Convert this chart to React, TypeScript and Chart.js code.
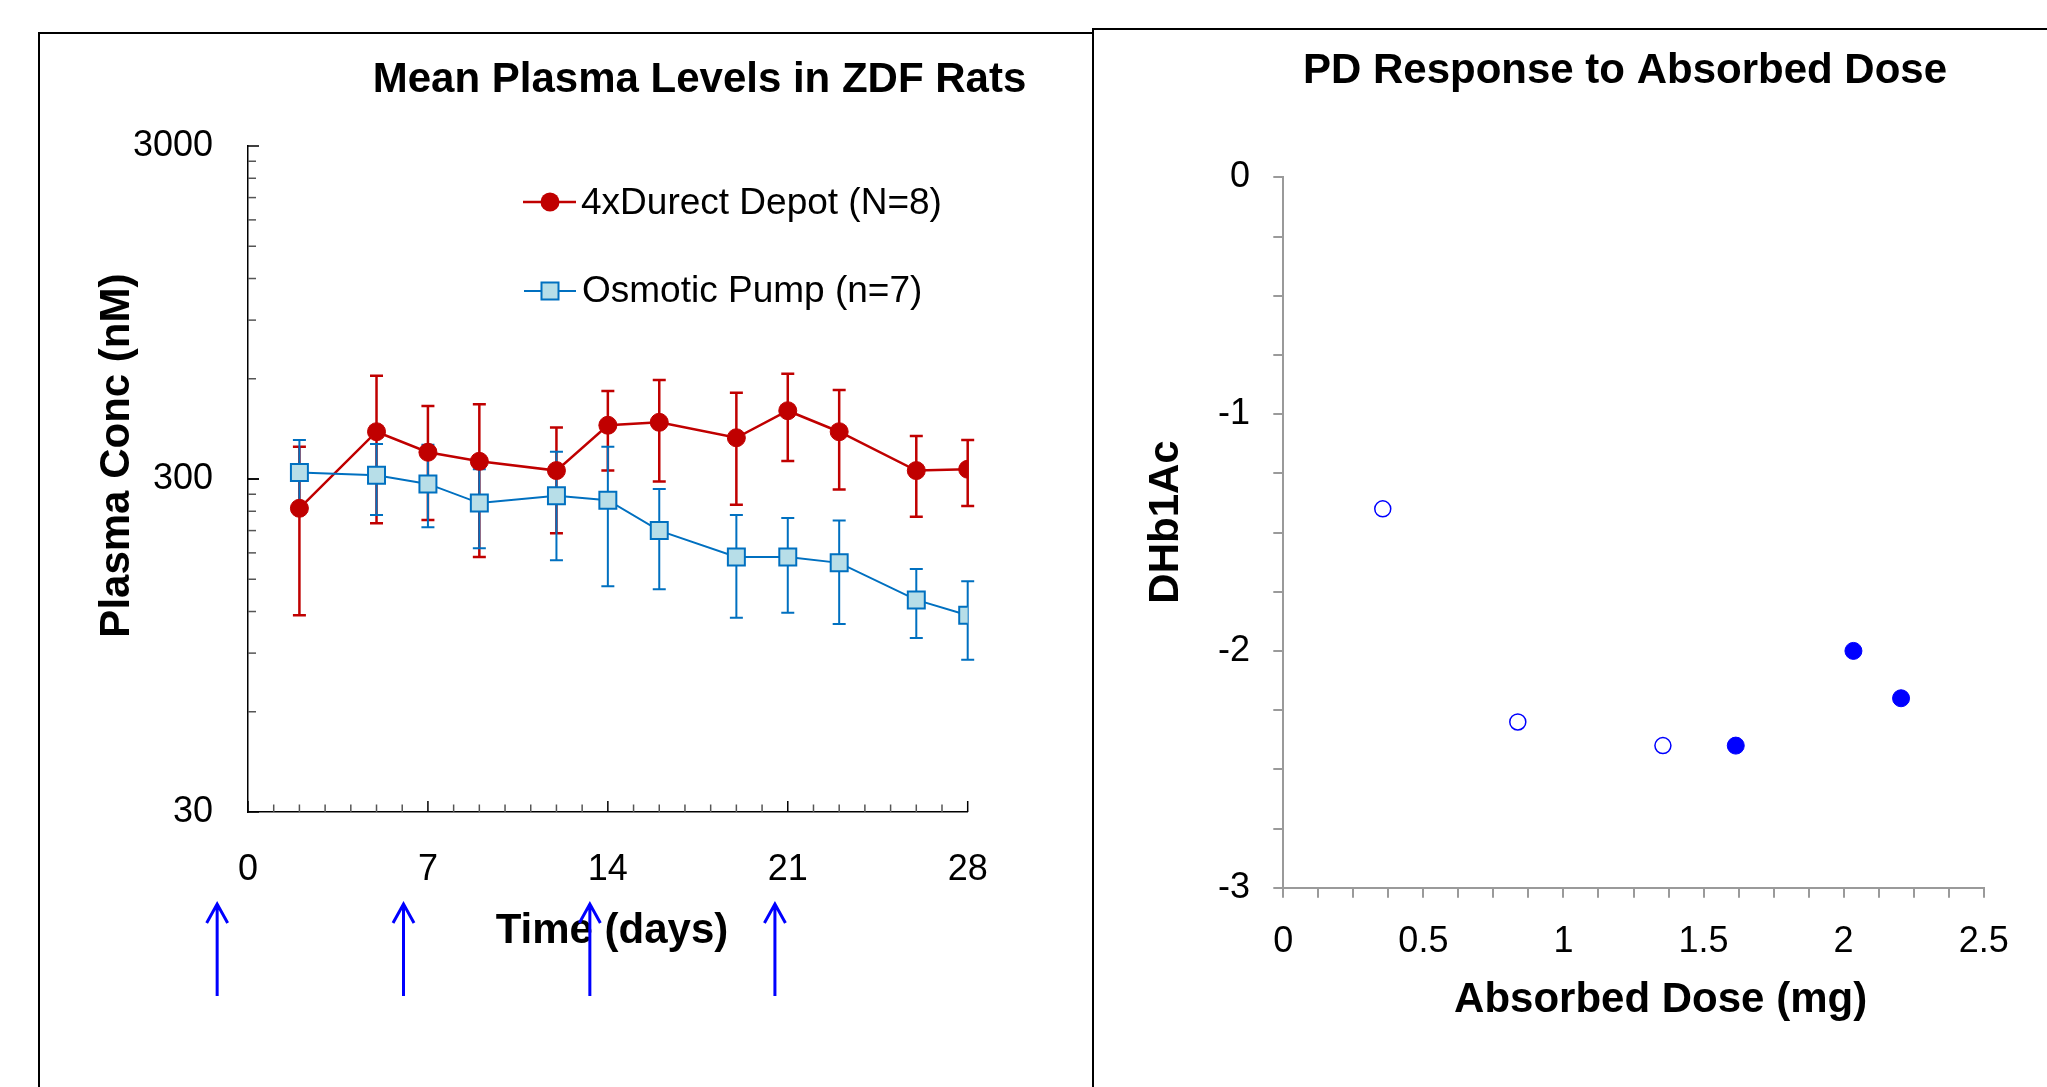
import React, { useEffect, useRef } from 'react';
import { Chart, registerables } from 'chart.js';

Chart.register(...registerables);

const FONT = "'Liberation Sans', Arial, Helvetica, sans-serif";

// ---- Left chart data ----
const days = [2, 5, 7, 9, 12, 14, 16, 19, 21, 23, 26, 28];
const depotMean = [245, 416, 361, 339, 318, 435, 444, 399, 481, 416, 318, 321];
const depotUpper = [375, 613, 497, 503, 428, 551, 595, 545, 621, 555, 404, 393];
const depotLower = [117, 221, 226, 175, 206, 318, 295, 251, 340, 279, 231, 249];
const pumpMean = [314, 308, 290, 254, 267, 259, 210, 175, 175, 168, 130, 117];
const pumpUpper = [393, 382, 380, 321, 362, 375, 280, 234, 229, 225, 161, 148];
const pumpLower = [251, 234, 215, 186, 171, 143, 140, 115, 119, 110, 100, 86];
const doseDays = [-1.2, 6.05, 13.3, 20.5];
const timeTicks = [0, 7, 14, 21, 28];
const concTicks = [30, 300, 3000];
const depotLabel = '4xDurect Depot (N=8)';
const pumpLabel = 'Osmotic Pump (n=7)';

// ---- Right chart data ----
const openDose = [0.355, 0.837, 1.355];
const openResp = [-1.4, -2.3, -2.4];
const filledDose = [1.615, 2.035, 2.205];
const filledResp = [-2.4, -2.0, -2.2];

const RED = '#C00000';
const BLUE = '#0070C0';
const BLUE_FILL = '#B7DEE8';
const PURE_BLUE = '#0000FF';

function drawText(ctx: any, text: string, x: number, y: number, size: number, bold: boolean, rotate = 0, align = 'center') {
  ctx.save();
  ctx.translate(x, y);
  if (rotate) ctx.rotate(rotate);
  ctx.font = `${bold ? 'bold ' : ''}${size}px ${FONT}`;
  ctx.fillStyle = '#000';
  ctx.textAlign = align;
  ctx.textBaseline = 'middle';
  ctx.fillText(text, 0, 0);
  ctx.restore();
}

function drawErr(ctx: any, xs: any, ys: any, lo: number[], hi: number[], color: string, w: number) {
  ctx.save();
  ctx.strokeStyle = color;
  ctx.lineWidth = w;
  days.forEach((d, i) => {
    const px = xs.getPixelForValue(d);
    const p1 = ys.getPixelForValue(hi[i]);
    const p2 = ys.getPixelForValue(lo[i]);
    ctx.beginPath();
    ctx.moveTo(px, p1);
    ctx.lineTo(px, p2);
    ctx.moveTo(px - 6.5, p1);
    ctx.lineTo(px + 6.5, p1);
    ctx.moveTo(px - 6.5, p2);
    ctx.lineTo(px + 6.5, p2);
    ctx.stroke();
  });
  ctx.restore();
}

const leftDecor = {
  id: 'leftDecor',
  beforeDatasetsDraw(chart: any) {
    const { ctx, chartArea: a, scales } = chart;
    const xs = scales.x;
    const ys = scales.y;
    ctx.save();
    ctx.lineWidth = 1.5;
    for (let d = 0; d <= 28; d++) {
      const px = xs.getPixelForValue(d);
      const major = d % 7 === 0;
      ctx.strokeStyle = major ? '#000' : '#555';
      ctx.beginPath();
      ctx.moveTo(px, a.bottom);
      ctx.lineTo(px, a.bottom - (major ? 11 : 7.5));
      ctx.stroke();
    }
    const yt: number[] = [];
    for (let k = 1; k <= 10; k++) { yt.push(30 * k); yt.push(300 * k); }
    yt.forEach((v) => {
      const py = ys.getPixelForValue(v);
      const major = concTicks.includes(v);
      ctx.strokeStyle = major ? '#000' : '#555';
      ctx.beginPath();
      ctx.moveTo(a.left, py);
      ctx.lineTo(a.left + (major ? 11 : 8), py);
      ctx.stroke();
    });
    ctx.restore();
    drawErr(ctx, xs, ys, depotLower, depotUpper, RED, 2.5);
    drawErr(ctx, xs, ys, pumpLower, pumpUpper, BLUE, 2);
  },
  afterDraw(chart: any) {
    const { ctx, chartArea: a, scales } = chart;
    const xs = scales.x;
    drawText(ctx, 'Mean Plasma Levels in ZDF Rats', 699.5, 80, 42, true);
    drawText(ctx, 'Plasma Conc (nM)', 117.5, 455.6, 42, true, -Math.PI / 2);
    drawText(ctx, 'Time (days)', 612, 931, 42, true);

    ctx.save();
    ctx.strokeStyle = RED;
    ctx.lineWidth = 2.5;
    ctx.beginPath();
    ctx.moveTo(523, 202);
    ctx.lineTo(576, 202);
    ctx.stroke();
    ctx.fillStyle = RED;
    ctx.beginPath();
    ctx.arc(550, 202, 9.5, 0, Math.PI * 2);
    ctx.fill();
    ctx.strokeStyle = BLUE;
    ctx.lineWidth = 2;
    ctx.beginPath();
    ctx.moveTo(524, 291);
    ctx.lineTo(576, 291);
    ctx.stroke();
    ctx.fillStyle = BLUE_FILL;
    ctx.fillRect(541.5, 282.5, 17, 17);
    ctx.strokeRect(541.5, 282.5, 17, 17);
    ctx.restore();
    drawText(ctx, depotLabel, 581, 203.5, 37, false, 0, 'left');
    drawText(ctx, pumpLabel, 582, 291.5, 37, false, 0, 'left');

    ctx.save();
    ctx.strokeStyle = PURE_BLUE;
    ctx.lineWidth = 3;
    doseDays.forEach((d) => {
      const px = xs.getPixelForValue(d);
      const y1 = a.bottom + 92;
      const y2 = a.bottom + 184;
      ctx.beginPath();
      ctx.moveTo(px, y2);
      ctx.lineTo(px, y1);
      ctx.moveTo(px - 10.5, y1 + 19);
      ctx.lineTo(px, y1);
      ctx.lineTo(px + 10.5, y1 + 19);
      ctx.stroke();
    });
    ctx.restore();
  },
};

const rightDecor = {
  id: 'rightDecor',
  afterDraw(chart: any) {
    const { ctx } = chart;
    drawText(ctx, 'PD Response to Absorbed Dose', 1625, 71, 42, true);
    drawText(ctx, 'DHb1Ac', 1166, 522, 42, true, -Math.PI / 2);
    drawText(ctx, 'Absorbed Dose (mg)', 1660.6, 1000, 42, true);
  },
};

function leftConfig(): any {
  return {
    type: 'line',
    data: {
      datasets: [
        {
          label: depotLabel,
          data: days.map((d, i) => ({ x: d, y: depotMean[i] })),
          order: 1,
          borderColor: RED,
          borderWidth: 2.5,
          pointStyle: 'circle',
          pointRadius: 9,
          pointBackgroundColor: RED,
          pointBorderColor: RED,
          pointBorderWidth: 1,
          tension: 0,
        },
        {
          label: pumpLabel,
          data: days.map((d, i) => ({ x: d, y: pumpMean[i] })),
          order: 0,
          borderColor: BLUE,
          borderWidth: 2,
          pointStyle: 'rect',
          pointRadius: 12,
          pointBackgroundColor: BLUE_FILL,
          pointBorderColor: BLUE,
          pointBorderWidth: 2,
          tension: 0,
        },
      ],
    },
    options: {
      responsive: false,
      animation: false,
      events: [],
      layout: { padding: { left: 48, right: 2047 - 967.7, top: 146, bottom: 175 } },
      scales: {
        x: {
          type: 'linear',
          min: 0,
          max: 28,
          afterBuildTicks: (s: any) => { s.ticks = timeTicks.map((v) => ({ value: v })); },
          afterFit: (s: any) => { s.height = 100; },
          grid: { display: false, drawTicks: false, tickLength: 0 },
          border: { display: true, color: '#000', width: 1.5 },
          ticks: { padding: 36, color: '#000', font: { size: 36, family: FONT }, maxRotation: 0, autoSkip: false, callback: (v: any) => String(v) },
        },
        y: {
          type: 'logarithmic',
          min: 30,
          max: 3000,
          afterBuildTicks: (s: any) => { s.ticks = concTicks.map((v) => ({ value: v })); },
          afterFit: (s: any) => { s.width = 200; },
          grid: { display: false, drawTicks: false, tickLength: 0 },
          border: { display: true, color: '#000', width: 1.5 },
          ticks: { padding: 35, color: '#000', font: { size: 36, family: FONT }, autoSkip: false, callback: (v: any) => String(v) },
        },
      },
      plugins: { legend: { display: false }, tooltip: { enabled: false }, title: { display: false } },
    },
    plugins: [leftDecor],
  };
}

function rightConfig(): any {
  return {
    type: 'scatter',
    data: {
      datasets: [
        {
          label: 'open',
          data: openDose.map((d, i) => ({ x: d, y: openResp[i] })),
          pointStyle: 'circle',
          pointRadius: 8,
          pointBackgroundColor: '#FFFFFF',
          pointBorderColor: PURE_BLUE,
          pointBorderWidth: 1.5,
          showLine: false,
        },
        {
          label: 'filled',
          data: filledDose.map((d, i) => ({ x: d, y: filledResp[i] })),
          pointStyle: 'circle',
          pointRadius: 8.5,
          pointBackgroundColor: PURE_BLUE,
          pointBorderColor: PURE_BLUE,
          pointBorderWidth: 1,
          showLine: false,
        },
      ],
    },
    options: {
      responsive: false,
      animation: false,
      events: [],
      layout: { padding: { left: 1283.3 - 150, right: 2047 - 1983.7, top: 177.3, bottom: 1087 - 887.7 - 100 } },
      scales: {
        x: {
          type: 'linear',
          min: 0,
          max: 2.5,
          afterFit: (s: any) => { s.height = 100; },
          grid: { display: true, drawOnChartArea: false, drawTicks: true, tickLength: 10, color: '#9A9A9A', lineWidth: 2 },
          border: { display: true, color: '#9A9A9A', width: 2 },
          ticks: {
            stepSize: 0.125,
            padding: 22.4,
            color: '#000',
            font: { size: 36, family: FONT },
            maxRotation: 0,
            autoSkip: false,
            callback: (v: any) => (Math.abs(v * 2 - Math.round(v * 2)) < 1e-6 ? String(Math.round(v * 2) / 2) : ''),
          },
        },
        y: {
          type: 'linear',
          min: -3,
          max: 0,
          afterFit: (s: any) => { s.width = 150; },
          grid: { display: true, drawOnChartArea: false, drawTicks: true, tickLength: 10, color: '#9A9A9A', lineWidth: 2 },
          border: { display: true, color: '#9A9A9A', width: 2 },
          ticks: {
            stepSize: 0.25,
            padding: 23.3,
            color: '#000',
            font: { size: 36, family: FONT },
            autoSkip: false,
            callback: (v: any) => (Math.abs(v - Math.round(v)) < 1e-6 ? String(Math.round(v) || 0) : ''),
          },
        },
      },
      plugins: { legend: { display: false }, tooltip: { enabled: false }, title: { display: false } },
    },
    plugins: [rightDecor],
  };
}

export default function App() {
  const leftRef = useRef<HTMLCanvasElement>(null);
  const rightRef = useRef<HTMLCanvasElement>(null);
  useEffect(() => {
    const c1 = new Chart(leftRef.current as HTMLCanvasElement, leftConfig());
    const c2 = new Chart(rightRef.current as HTMLCanvasElement, rightConfig());
    return () => {
      c1.destroy();
      c2.destroy();
    };
  }, []);
  return (
    <div style={{ position: 'absolute', left: 0, top: 0, width: 2047, height: 1087, overflow: 'hidden', background: '#fff' }}>
      <div style={{ position: 'absolute', left: 38, top: 32, width: 1056, height: 1100, border: '2px solid #000', boxSizing: 'border-box' }} />
      <div style={{ position: 'absolute', left: 1092, top: 28, width: 1000, height: 1100, borderTop: '2px solid #000', borderLeft: '2px solid #000', boxSizing: 'border-box' }} />
      <canvas ref={leftRef} width={2047} height={1087} style={{ position: 'absolute', left: 0, top: 0 }} />
      <canvas ref={rightRef} width={2047} height={1087} style={{ position: 'absolute', left: 0, top: 0 }} />
    </div>
  );
}
